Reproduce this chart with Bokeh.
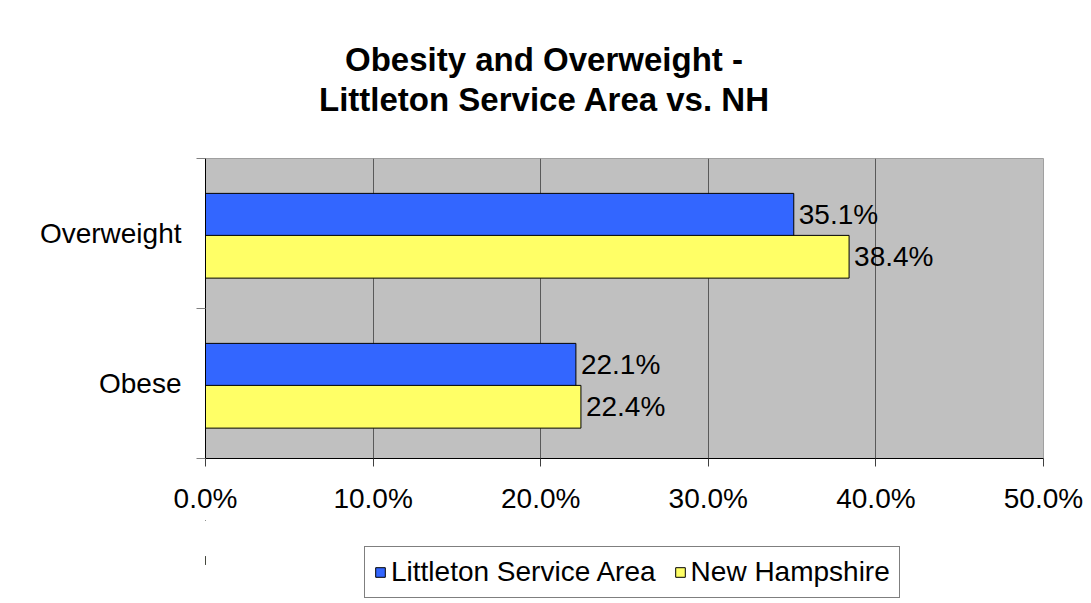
from bokeh.plotting import figure
from bokeh.layouts import column
from bokeh.models import (ColumnDataSource, Range1d, FixedTicker, PrintfTickFormatter,
                          Legend, LegendItem, Div)
from bokeh.transform import dodge
from bokeh.core.properties import value
from bokeh.embed import file_html
from bokeh.resources import INLINE

# ---- data ----
categories = ["Overweight", "Obese"]
littleton = [35.1, 22.1]
new_hampshire = [38.4, 22.4]
series_names = ["Littleton Service Area", "New Hampshire"]
x_ticks = [0, 10, 20, 30, 40, 50]
title_lines = ["Obesity and Overweight -", "Littleton Service Area vs. NH"]

FONT = "Liberation Sans"
FS = "28px"
BLUE = "#3366FF"
YELLOW = "#FFFF66"

n = len(categories)
ypos = [n - i - 0.5 for i in range(n)]  # category band centres (top first)

src = ColumnDataSource(dict(
    cat=categories,
    ypos=ypos,
    lit=littleton,
    nh=new_hampshire,
    lit_lbl=[f"{v:.1f}%" for v in littleton],
    nh_lbl=[f"{v:.1f}%" for v in new_hampshire],
))

# ---- title ----
title = Div(text="<br>".join(title_lines), width=1088, height=150, margin=0,
            styles={"text-align": "center", "font-family": FONT,
                    "font-size": "33px", "font-weight": "bold",
                    "line-height": "40px", "color": "black",
                    "padding-top": "40px", "box-sizing": "border-box"})

# ---- main chart ----
p = figure(width=1088, height=370,
           y_range=Range1d(0, n),
           x_range=Range1d(0, 50),
           output_backend="svg", toolbar_location=None,
           min_border_left=205, min_border_right=45,
           min_border_top=8, min_border_bottom=62)

p.background_fill_color = "#C0C0C0"
p.border_fill_color = "white"
p.outline_line_color = "#A0A0A0"

OFF_A, OFF_B, H = 0.125, -0.155, 0.285
r1 = p.hbar(y=dodge("ypos", OFF_A), right="lit", left=0,
            height=H, source=src, fill_color=BLUE, line_color="black", line_width=1)
r2 = p.hbar(y=dodge("ypos", OFF_B), right="nh", left=0,
            height=H, source=src, fill_color=YELLOW, line_color="black", line_width=1)

p.text(x="lit", y=dodge("ypos", OFF_A), text="lit_lbl", source=src,
       x_offset=5, text_baseline="middle", text_align="left",
       text_font=value(FONT), text_font_size=FS, text_color="black")
p.text(x="nh", y=dodge("ypos", OFF_B), text="nh_lbl", source=src,
       x_offset=5, text_baseline="middle", text_align="left",
       text_font=value(FONT), text_font_size=FS, text_color="black")

# x axis
xa = p.xaxis[0]
xa.ticker = FixedTicker(ticks=x_ticks)
xa.formatter = PrintfTickFormatter(format="%.1f%%")
xa.major_tick_out = 8
xa.major_tick_in = 0
xa.minor_tick_line_color = None
xa.major_tick_line_color = "#404040"
xa.axis_line_color = "black"
xa.major_label_standoff = 16
xa.major_label_text_font = FONT
xa.major_label_text_font_size = FS
xa.major_label_text_color = "black"

p.xgrid.ticker = FixedTicker(ticks=[t for t in x_ticks if 0 < t < 50])
p.xgrid.grid_line_color = "#5A5A5A"
p.ygrid.grid_line_color = None

# y axis: labels at band centres, boundary ticks as minor ticks
ya = p.yaxis[0]
ya.ticker = FixedTicker(ticks=ypos, minor_ticks=list(range(n + 1)))
ya.major_label_overrides = {y: c for y, c in zip(ypos, categories)}
ya.major_tick_line_color = None
ya.major_tick_in = 0
ya.major_tick_out = 9
ya.minor_tick_in = 0
ya.minor_tick_out = 9
ya.minor_tick_line_color = "#808080"
ya.axis_line_color = "black"
ya.major_label_standoff = 15
ya.major_label_text_font = FONT
ya.major_label_text_font_size = FS
ya.major_label_text_color = "black"

# ---- legend strip (frame aligned with the chart's frame by the column) ----
pl = figure(width=1088, height=80, x_range=Range1d(100, 101), y_range=Range1d(0, 1),
            output_backend="svg", toolbar_location=None,
            x_axis_location=None, y_axis_location=None, min_border=0)
pl.outline_line_color = None
pl.xgrid.visible = False
pl.ygrid.visible = False
# same series, drawn outside the strip's visible range: only their legend swatches show
l1 = pl.hbar(y="ypos", right="lit", left=0, height=0.1, source=src,
             fill_color=BLUE, line_color="black", line_width=1)
l2 = pl.hbar(y="ypos", right="nh", left=0, height=0.1, source=src,
             fill_color=YELLOW, line_color="black", line_width=1)

legend = Legend(items=[LegendItem(label=series_names[0], renderers=[l1]),
                       LegendItem(label=series_names[1], renderers=[l2])],
                orientation="horizontal", location=(159, 2),
                label_text_font=FONT, label_text_font_size=FS,
                label_text_color="black",
                glyph_width=12, glyph_height=12, label_standoff=5,
                spacing=18, padding=9, margin=0,
                border_line_color="black", border_line_width=1,
                background_fill_color="white")
pl.add_layout(legend)

layout = column(title, p, pl, spacing=0)
open("out.html", "w").write(file_html(layout, INLINE))
